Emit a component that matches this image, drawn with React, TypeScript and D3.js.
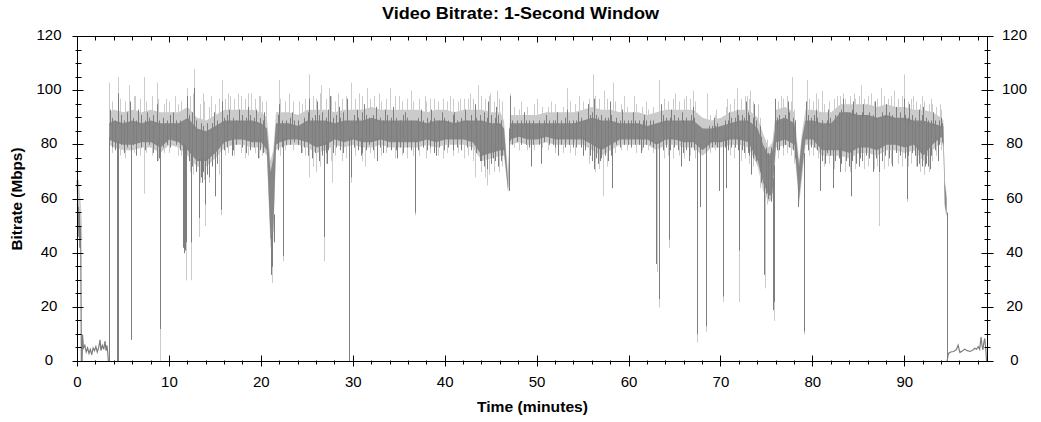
import React from "react";
import * as d3 from "d3";

const TITLE = "Video Bitrate: 1-Second Window";
const X_LABEL = "Time (minutes)";
const Y_LABEL = "Bitrate (Mbps)";
const X_TICKS = [0, 10, 20, 30, 40, 50, 60, 70, 80, 90];
const Y_TICKS = [0, 20, 40, 60, 80, 100, 120];

// main plateau: time (min), dark core low/high, light envelope low/high (Mbps)
const bandTime = [3.45, 4, 5, 6, 7, 8, 9, 10, 11, 12, 13, 14, 15, 16, 17, 18, 19, 20, 20.6, 21.0, 21.3, 21.6, 22, 23, 24, 25, 26, 27, 28, 29, 30, 31, 32, 33, 34, 35, 36, 37, 38, 39, 40, 41, 42, 43, 44, 45, 46, 46.4, 46.85, 47.05, 48, 49, 50, 51, 52, 53, 54, 55, 56, 57, 58, 59, 60, 61, 62, 63, 64, 65, 66, 67, 68, 69, 70, 71, 72, 73, 74, 74.6, 75.2, 75.6, 76, 77, 78, 78.5, 78.8, 79.2, 80, 81, 82, 83, 84, 85, 86, 87, 88, 89, 90, 91, 92, 93, 94, 94.2, 94.35, 94.55];
const darkLow = [82, 81, 80, 80, 81, 81, 79, 82, 81, 78, 74, 74, 77, 81, 82, 82, 81, 81, 78, 45, 48, 80, 81, 82, 82, 81, 79, 80, 82, 81, 82, 81, 81, 82, 81, 81, 81, 81, 82, 81, 82, 82, 82, 81, 76, 77, 78, 78, 63, 82, 83, 82, 82, 83, 82, 82, 82, 82, 80, 78, 80, 82, 82, 82, 82, 80, 82, 82, 81, 81, 78, 81, 81, 82, 82, 81, 74, 66, 61, 62, 81, 82, 80, 60, 70, 82, 82, 78, 78, 78, 77, 79, 79, 78, 80, 80, 79, 80, 76, 80, 83, 80, 58, 54];
const darkHigh = [88, 89, 88, 89, 88, 89, 88, 88, 88, 90, 86, 85, 87, 89, 89, 89, 89, 88, 86, 70, 75, 88, 88, 88, 87, 89, 89, 89, 88, 89, 89, 89, 90, 89, 89, 89, 89, 89, 88, 89, 89, 88, 89, 89, 89, 88, 88, 86, 66, 88, 88, 88, 88, 88, 88, 88, 88, 89, 90, 89, 89, 88, 88, 88, 87, 88, 89, 89, 89, 89, 86, 86, 87, 88, 89, 89, 86, 80, 76, 78, 89, 90, 88, 72, 82, 89, 89, 88, 88, 92, 92, 91, 91, 90, 91, 90, 90, 89, 89, 88, 87, 87, 66, 60];
const lightLow = [80, 79, 78, 78, 79, 79, 77, 80, 79, 76, 72, 72, 75, 79, 80, 80, 79, 79, 76, 42, 45, 78, 79, 80, 80, 79, 77, 78, 80, 79, 80, 79, 79, 80, 79, 79, 79, 79, 80, 79, 80, 80, 80, 79, 74, 75, 76, 76, 62, 80, 81, 80, 80, 81, 80, 80, 80, 80, 78, 76, 78, 80, 80, 80, 80, 78, 80, 80, 79, 79, 76, 79, 79, 80, 80, 79, 72, 63, 59, 60, 79, 80, 78, 58, 67, 80, 80, 76, 76, 76, 75, 77, 77, 76, 78, 78, 77, 78, 74, 78, 81, 79, 57, 53];
const lightHigh = [92, 93, 92, 93, 92, 93, 92, 92, 92, 94, 90, 89, 91, 93, 93, 93, 93, 92, 90, 74, 78, 92, 92, 92, 91, 93, 93, 93, 92, 93, 93, 93, 94, 93, 93, 93, 93, 93, 92, 93, 93, 92, 93, 93, 93, 92, 92, 89, 68, 91, 91, 91, 91, 92, 92, 92, 92, 93, 94, 93, 93, 92, 92, 92, 91, 92, 93, 93, 93, 93, 90, 89, 90, 92, 93, 93, 90, 84, 79, 81, 93, 94, 92, 74, 84, 93, 93, 92, 92, 95, 95, 95, 95, 94, 95, 94, 94, 93, 93, 92, 90, 89, 67, 62];

// hairline texture of the plateau: [minute, low, high]
const darkFuzz = [[3.7, 79, 90], [4.1, 78, 89], [4.7, 80, 91], [5.1, 77, 89], [5.4, 79, 92], [6.0, 80, 90], [6.4, 76, 89], [6.9, 79, 91], [7.3, 78, 89], [7.8, 80, 90], [8.2, 77, 91], [8.9, 75, 89], [9.3, 79, 90], [9.7, 80, 89], [10.1, 79, 91], [10.7, 80, 89], [11.1, 78, 89], [12.1, 74, 91], [12.5, 72, 92], [12.9, 70, 89], [13.4, 68, 88], [13.7, 70, 87], [14.1, 69, 88], [14.6, 72, 88], [15.2, 73, 89], [15.9, 78, 90], [16.3, 79, 91], [16.9, 78, 90], [17.2, 80, 89], [17.9, 79, 91], [18.3, 77, 90], [18.8, 78, 91], [19.2, 79, 90], [19.9, 78, 90], [20.2, 77, 89], [21.8, 78, 91], [22.2, 79, 89], [22.7, 80, 89], [23.1, 80, 90], [23.6, 81, 89], [24.0, 80, 89], [24.6, 79, 90], [25.1, 76, 92], [25.5, 75, 90], [25.8, 77, 91], [26.3, 74, 91], [26.6, 76, 92], [27.0, 77, 90], [27.3, 78, 93], [27.8, 77, 90], [28.1, 79, 91], [28.6, 78, 90], [28.9, 77, 92], [30.1, 79, 91], [30.5, 78, 90], [30.9, 77, 92], [31.4, 78, 91], [31.7, 80, 90], [32.1, 78, 91], [32.9, 79, 90], [33.2, 77, 89], [33.7, 79, 91], [34.1, 78, 90], [34.6, 78, 90], [35.1, 79, 89], [35.4, 77, 91], [35.9, 79, 90], [36.3, 78, 89], [37.0, 78, 90], [37.6, 79, 89], [38.0, 78, 90], [38.3, 79, 89], [38.8, 77, 90], [39.3, 79, 89], [39.9, 78, 90], [40.3, 79, 89], [40.8, 78, 91], [41.3, 79, 89], [41.7, 78, 90], [42.4, 79, 89], [42.8, 78, 91], [43.4, 77, 90], [43.8, 74, 91], [44.2, 72, 92], [44.6, 71, 90], [45.0, 73, 91], [45.4, 74, 90], [45.8, 72, 91], [46.1, 74, 89], [46.9, 63, 86], [47.3, 80, 89], [47.8, 81, 89], [48.2, 80, 89], [48.8, 80, 89], [49.1, 79, 89], [49.6, 80, 89], [50.2, 80, 89], [50.7, 81, 89], [51.3, 80, 89], [51.7, 80, 89], [52.0, 79, 89], [52.6, 80, 89], [53.0, 79, 90], [53.5, 80, 89], [53.9, 79, 89], [54.2, 79, 89], [54.8, 79, 90], [55.2, 78, 89], [55.8, 76, 91], [56.0, 74, 92], [56.4, 75, 91], [56.6, 73, 90], [57.0, 75, 91], [57.4, 76, 90], [57.7, 74, 90], [58.0, 76, 91], [58.6, 80, 90], [59.0, 79, 89], [59.5, 80, 89], [59.9, 80, 89], [60.2, 79, 89], [60.7, 80, 89], [61.1, 80, 89], [61.5, 79, 89], [61.9, 80, 89], [62.3, 80, 89], [62.6, 79, 89], [63.7, 78, 91], [64.0, 79, 90], [64.5, 78, 90], [64.9, 79, 91], [65.3, 78, 90], [65.9, 77, 89], [66.2, 78, 90], [66.7, 79, 91], [67.1, 78, 90], [68.7, 79, 87], [69.0, 79, 87], [69.4, 80, 87], [69.6, 79, 88], [70.4, 79, 89], [70.8, 78, 89], [71.1, 79, 90], [71.5, 79, 90], [71.9, 78, 91], [72.3, 78, 91], [72.5, 77, 90], [72.9, 77, 92], [73.1, 76, 91], [73.5, 75, 90], [73.8, 74, 89], [74.2, 70, 87], [74.4, 66, 83], [74.9, 62, 79], [75.1, 60, 77], [75.4, 59, 79], [76.1, 78, 90], [76.3, 78, 91], [76.7, 79, 90], [77.0, 80, 91], [77.4, 79, 92], [77.8, 78, 90], [78.1, 75, 89], [79.5, 78, 91], [79.8, 79, 90], [80.1, 79, 91], [80.5, 78, 90], [81.0, 74, 89], [81.5, 77, 89], [81.9, 76, 90], [82.4, 74, 91], [82.8, 75, 92], [83.1, 73, 93], [83.6, 74, 92], [83.9, 72, 91], [84.3, 74, 93], [84.7, 73, 92], [85.1, 75, 91], [85.4, 74, 92], [85.8, 76, 91], [86.1, 75, 92], [86.5, 74, 91], [86.9, 75, 90], [87.5, 74, 92], [87.8, 76, 91], [88.3, 75, 92], [88.6, 76, 91], [89.1, 77, 91], [89.5, 76, 92], [90.0, 75, 91], [90.4, 76, 90], [90.8, 77, 91], [91.1, 76, 90], [91.6, 73, 90], [91.9, 72, 91], [92.3, 73, 90], [92.5, 72, 89], [92.9, 76, 89], [93.3, 78, 89], [93.7, 80, 89], [94.0, 81, 88]];
const lightFuzz = [[3.8, 77, 96], [4.6, 76, 97], [5.2, 75, 96], [6.2, 77, 98], [6.8, 76, 97], [7.5, 77, 96], [8.1, 76, 98], [8.8, 74, 97], [9.4, 77, 95], [10.0, 77, 96], [10.9, 76, 95], [11.3, 76, 96], [12.2, 70, 98], [12.6, 69, 99], [13.3, 66, 95], [13.8, 67, 96], [14.3, 66, 94], [15.0, 70, 95], [15.4, 69, 97], [16.0, 76, 97], [16.4, 77, 99], [17.0, 76, 97], [17.8, 77, 98], [18.2, 75, 97], [18.6, 76, 99], [19.3, 77, 97], [19.7, 75, 98], [20.1, 76, 96], [22.0, 76, 97], [22.6, 78, 96], [23.4, 78, 96], [24.4, 77, 95], [24.8, 76, 97], [25.6, 72, 98], [26.0, 70, 97], [26.4, 72, 99], [27.0, 73, 97], [27.6, 74, 98], [28.0, 76, 96], [28.8, 74, 97], [29.2, 75, 98], [30.2, 76, 97], [30.9, 74, 98], [31.8, 77, 97], [32.3, 75, 98], [33.0, 76, 96], [33.6, 77, 97], [34.5, 75, 98], [35.3, 76, 96], [35.8, 75, 97], [36.5, 76, 96], [37.2, 76, 97], [37.9, 75, 96], [38.4, 77, 97], [39.2, 76, 96], [39.8, 75, 97], [40.2, 77, 96], [40.9, 76, 97], [41.4, 77, 96], [42.1, 75, 97], [42.5, 76, 97], [43.0, 74, 97], [43.9, 70, 98], [44.3, 68, 97], [44.8, 69, 98], [45.3, 70, 96], [45.9, 70, 97], [46.2, 72, 96], [47.5, 79, 94], [48.0, 78, 93], [48.9, 78, 94], [49.7, 78, 95], [50.5, 79, 94], [51.2, 78, 94], [52.0, 77, 95], [52.8, 77, 94], [53.6, 77, 96], [54.1, 76, 95], [55.0, 76, 96], [55.6, 73, 97], [56.3, 70, 98], [56.7, 71, 97], [57.6, 72, 97], [58.5, 77, 96], [59.1, 78, 95], [59.8, 78, 94], [60.8, 77, 95], [61.4, 78, 94], [62.1, 78, 93], [62.6, 77, 94], [63.8, 75, 97], [64.2, 76, 96], [64.8, 75, 97], [65.4, 76, 96], [66.0, 75, 97], [66.6, 76, 97], [67.2, 75, 96], [68.8, 77, 91], [69.3, 78, 91], [70.5, 76, 94], [71.0, 76, 95], [71.4, 75, 97], [72.2, 74, 97], [72.6, 75, 98], [73.0, 73, 97], [73.5, 72, 96], [74.3, 64, 90], [75.0, 58, 82], [76.2, 75, 96], [76.8, 76, 97], [77.2, 77, 98], [77.6, 76, 96], [78.0, 73, 93], [79.6, 76, 97], [80.0, 76, 96], [80.6, 75, 97], [81.2, 72, 95], [81.8, 73, 96], [82.3, 71, 97], [82.9, 71, 98], [83.5, 70, 97], [84.0, 70, 98], [84.6, 71, 97], [85.0, 72, 98], [85.6, 71, 97], [86.0, 72, 98], [86.6, 71, 96], [87.0, 72, 97], [87.7, 71, 98], [88.2, 72, 97], [88.5, 73, 98], [89.3, 73, 97], [89.7, 72, 98], [90.3, 72, 96], [90.7, 73, 97], [91.2, 72, 96], [91.7, 70, 95], [92.1, 69, 96], [92.6, 70, 95], [93.0, 74, 95], [93.4, 76, 94], [93.9, 78, 93]];

// opening and closing low-rate sections
const introTime = [0, 0.05, 0.1, 0.15, 0.2, 0.25, 0.3, 0.36, 0.42, 0.5, 0.55, 0.65, 0.8, 0.95, 1.1, 1.25, 1.4, 1.55, 1.7, 1.85, 2.0, 2.15, 2.3, 2.45, 2.55, 2.7, 2.85, 3.0, 3.1, 3.2, 3.3, 3.36];
const introRate = [58, 52, 57, 46, 55, 42, 50, 40, 0, 0, 10, 5, 6, 3.5, 5, 3, 4.5, 2.5, 5, 4, 5.5, 3.5, 5, 8, 4, 6, 4.5, 7.5, 4, 6, 3, 0];
const introLightTime = [0, 0.1, 0.2, 0.3, 0.36];
const introLightRate = [67, 62, 58, 52, 45];
const outroTime = [94.6, 94.75, 95.0, 95.3, 95.6, 95.8, 96.0, 96.3, 96.5, 96.8, 97.1, 97.4, 97.6, 97.8, 98.0, 98.15, 98.3, 98.4, 98.5, 98.6, 98.7, 98.8, 98.9, 99.0];
const outroRate = [0, 3, 3.5, 3.7, 4.3, 6, 3.3, 4, 4.5, 4, 3.7, 4.2, 4.9, 4.5, 5.5, 4.5, 9, 6, 4.3, 7, 8.5, 5, 0, 0];

// individual spikes [minute, Mbps]
const darkDips = [[3.42, 0], [4.25, 0], [4.42, 0], [5.8, 8], [8.6, 74], [9.0, 12], [11.5, 42], [11.6, 40], [11.7, 41], [11.8, 44], [12.3, 44], [13.2, 53], [13.5, 66], [13.9, 58], [14.3, 68], [15.0, 61], [15.6, 56], [16.8, 76], [19.6, 75], [21.1, 32], [21.2, 35], [21.35, 44], [22.4, 39], [24.3, 77], [26.8, 46], [27.1, 73], [29.5, 0], [29.75, 68], [30.8, 76], [32.6, 74], [34.8, 75], [36.7, 55], [39.0, 76], [43.9, 74], [44.5, 73], [45.2, 75], [46.2, 76], [49.3, 72], [50.4, 73], [52.3, 76], [55.0, 76], [56.2, 71], [56.8, 74], [58.1, 64], [61.3, 77], [62.95, 36], [63.3, 23], [64.3, 45], [65.7, 72], [66.5, 74], [67.35, 10], [67.7, 57], [68.4, 13], [69.8, 63], [70.2, 24], [70.6, 64], [72.0, 41], [73.3, 69], [74.7, 32], [75.7, 19], [75.8, 22], [78.4, 57], [79.0, 11], [80.8, 63], [81.3, 73], [82.2, 64], [83.0, 70], [84.1, 61], [85.0, 72], [86.5, 70], [87.2, 70], [88.6, 72], [90.2, 60], [91.3, 72], [92.2, 72], [92.7, 71], [93.6, 74], [94.58, 0]];
const lightDips = [[9.0, 0], [11.8, 30], [12.3, 30], [7.25, 62], [13.2, 46], [13.9, 50], [15.6, 54], [21.15, 29], [22.4, 37], [25.2, 68], [26.8, 37], [27.7, 66], [29.75, 66], [31.3, 72], [36.7, 54], [43.2, 68], [44.5, 65], [57.2, 61], [63.0, 33], [63.3, 20], [64.3, 42], [67.35, 7], [68.4, 11], [70.2, 22], [72.0, 22], [74.8, 27], [75.8, 15], [79.0, 10], [87.2, 50], [90.2, 59]];
const darkPeaks = [[3.5, 93], [4.4, 99], [5.7, 96], [6.6, 93], [7.6, 92], [8.7, 95], [10.4, 92], [11.9, 98], [12.7, 101], [14.8, 92], [15.7, 96], [16.5, 93], [17.6, 93], [18.5, 94], [19.4, 93], [20.3, 92], [21.9, 95], [23.3, 92], [25.2, 97], [26.1, 96], [27.5, 98], [28.4, 94], [29.3, 97], [30.4, 93], [31.2, 95], [32.5, 94], [33.4, 93], [34.3, 94], [35.6, 92], [37.4, 93], [38.5, 93], [39.7, 92], [41.0, 92], [42.2, 93], [43.2, 95], [44.7, 96], [45.5, 94], [47.0, 98], [48.6, 92], [51.0, 91], [52.2, 92], [53.2, 93], [54.4, 92], [55.5, 95], [56.2, 97], [57.9, 96], [59.2, 93], [60.4, 92], [61.6, 91], [63.5, 95], [64.6, 93], [65.8, 92], [67.0, 94], [69.2, 90], [70.9, 92], [71.8, 93], [72.7, 96], [73.6, 95], [75.9, 97], [77.3, 96], [79.3, 96], [80.3, 93], [81.6, 93], [83.3, 97], [84.4, 96], [85.5, 95], [86.8, 96], [88.0, 95], [89.0, 94], [89.9, 97], [90.5, 95], [91.5, 93], [92.0, 94], [93.1, 92], [93.9, 90]];
const lightPeaks = [[3.45, 103], [4.4, 105], [5.6, 102], [6.3, 98], [7.25, 105], [8.6, 103], [9.6, 97], [10.6, 98], [11.9, 101], [12.7, 108], [13.6, 99], [14.5, 98], [15.7, 104], [16.6, 98], [17.5, 99], [18.9, 99], [19.8, 98], [20.5, 96], [21.9, 104], [23.0, 99], [24.1, 96], [25.2, 106], [26.5, 102], [27.4, 101], [28.3, 99], [29.7, 103], [30.6, 99], [31.5, 101], [32.8, 99], [34.0, 101], [35.0, 98], [36.3, 100], [37.8, 98], [38.8, 97], [40.5, 98], [41.6, 97], [42.7, 99], [43.6, 102], [44.9, 99], [45.6, 100], [47.0, 99], [48.3, 96], [50.0, 97], [51.5, 96], [53.2, 101], [54.6, 98], [56.1, 106], [57.3, 100], [58.3, 103], [59.5, 98], [60.5, 98], [61.8, 96], [63.3, 104], [65.0, 99], [66.2, 98], [67.0, 100], [68.5, 99], [69.5, 93], [70.7, 97], [71.7, 101], [72.8, 98], [73.2, 100], [74.0, 95], [76.5, 98], [77.7, 105], [79.4, 104], [80.3, 99], [81.0, 100], [82.6, 98], [83.3, 99], [84.5, 99], [85.2, 102], [86.3, 99], [87.4, 101], [88.8, 100], [89.9, 106], [90.9, 98], [91.9, 98], [92.8, 97], [93.8, 95]];

const W = 1041;
const H = 422;
const FONT = "'Liberation Sans', Arial, Helvetica, sans-serif";
const DARK = "#7e7e7e";
const DARK_FILL = "#878787";
const LIGHT = "#cbcbcb";

export default function App() {
  const x = d3.scaleLinear().domain([0, 99]).range([77.5, 987.5]);
  const y = d3.scaleLinear().domain([0, 120]).range([361.5, 36.5]);
  const [L, R] = x.range();
  const [B, T] = y.range();

  const band = bandTime.map((t, i) => ({ t, dl: darkLow[i], dh: darkHigh[i], ll: lightLow[i], lh: lightHigh[i] }));
  const lightArea = d3.area<any>().x((d) => x(d.t)).y0((d) => y(d.ll)).y1((d) => y(d.lh));
  const darkArea = d3.area<any>().x((d) => x(d.t)).y0((d) => y(d.dl)).y1((d) => y(d.dh));
  const loAt = d3.scaleLinear().domain(bandTime).range(darkLow).clamp(true);
  const hiAt = d3.scaleLinear().domain(bandTime).range(darkHigh).clamp(true);
  const line = d3.line<number[]>().x((d) => x(d[0])).y((d) => y(d[1]));
  const intro = introTime.map((t, i) => [t, introRate[i]]);
  const introLight = introLightTime.map((t, i) => [t, introLightRate[i]]);
  const outro = outroTime.map((t, i) => [t, outroRate[i]]);
  const px = (t: number) => Math.round(x(t)) + 0.5;

  const minorX = d3.range(0, 99, 2).filter((v) => v % 10 !== 0);
  const minorY = d3.range(0, 121, 5).filter((v) => v % 20 !== 0);
  const rnd = (v: number) => Math.round(v - 0.5) + 0.5;

  const vline = (key: string, t: number, a: number, b: number, color: string) => (
    <line key={key} x1={px(t)} x2={px(t)} y1={y(a)} y2={y(b)} stroke={color} strokeWidth={1} />
  );

  return (
    <div style={{ position: "fixed", left: 0, top: 0, width: W, height: H, background: "#fff" }}>
      <svg width={W} height={H} style={{ display: "block" }}>
        <rect x={0} y={0} width={W} height={H} fill="#fff" />
        <text x={520.5} y={18.5} textAnchor="middle" fontFamily={FONT} fontWeight="bold" fontSize={16} textLength={277} lengthAdjust="spacingAndGlyphs" fill="#000">{TITLE}</text>

        {/* light layer */}
        <path d={lightArea(band) || ""} fill={LIGHT} />
        <path d={line(introLight) || ""} fill="none" stroke={LIGHT} strokeWidth={3} />
        {lightFuzz.map(([t, a, b], i) => vline("lf" + i, t, a, b, LIGHT))}
        {lightPeaks.map(([t, v], i) => vline("lp" + i, t, hiAt(t) - 1, v, LIGHT))}
        {lightDips.map(([t, v], i) => vline("ld" + i, t, loAt(t) + 1, v, LIGHT))}

        {/* dark layer */}
        <path d={darkArea(band) || ""} fill={DARK_FILL} />
        {darkFuzz.map(([t, a, b], i) => vline("df" + i, t, a, b, DARK))}
        {darkPeaks.map(([t, v], i) => vline("dp" + i, t, hiAt(t) - 1, v, DARK))}
        {darkDips.map(([t, v], i) => vline("dd" + i, t, loAt(t) + 1, v, DARK))}
        <path d={line(intro) || ""} fill="none" stroke={DARK} strokeWidth={1.2} />
        <path d={line(outro) || ""} fill="none" stroke={DARK} strokeWidth={1.2} />

        {/* frame */}
        <rect x={L} y={T} width={R - L} height={B - T} fill="none" stroke="#000" strokeWidth={1} />

        {/* x ticks */}
        {X_TICKS.map((v) => {
          const xx = rnd(x(v));
          return (
            <g key={"xt" + v}>
              <line x1={xx} x2={xx} y1={B - 6} y2={B + 5} stroke="#000" />
              <line x1={xx} x2={xx} y1={T} y2={T + 6} stroke="#000" />
              <text x={x(v)} y={387} textAnchor="middle" fontFamily={FONT} fontSize={15} fill="#000">{v}</text>
            </g>
          );
        })}
        {minorX.map((v) => {
          const xx = rnd(x(v));
          return (
            <g key={"xm" + v}>
              <line x1={xx} x2={xx} y1={B - 1} y2={B + 3} stroke="#000" />
              <line x1={xx} x2={xx} y1={T} y2={T + 4} stroke="#000" />
            </g>
          );
        })}

        {/* y ticks */}
        {Y_TICKS.map((v) => {
          const yy = rnd(y(v));
          return (
            <g key={"yt" + v}>
              <line x1={L - 5} x2={L + 6} y1={yy} y2={yy} stroke="#000" />
              <line x1={R - 6} x2={R + 6} y1={yy} y2={yy} stroke="#000" />
              <text x={49} y={y(v) + 3.5} textAnchor="middle" fontFamily={FONT} fontSize={15} fill="#000">{v}</text>
              <text x={1014.5} y={y(v) + 3.5} textAnchor="middle" fontFamily={FONT} fontSize={15} fill="#000">{v}</text>
            </g>
          );
        })}
        {minorY.map((v) => {
          const yy = rnd(y(v));
          return (
            <g key={"ym" + v}>
              <line x1={L - 2} x2={L + 4} y1={yy} y2={yy} stroke="#000" />
              <line x1={R - 3} x2={R + 3} y1={yy} y2={yy} stroke="#000" />
            </g>
          );
        })}

        <text x={(L + R) / 2} y={412} textAnchor="middle" fontFamily={FONT} fontWeight="bold" fontSize={15} textLength={111} lengthAdjust="spacingAndGlyphs" fill="#000">{X_LABEL}</text>
        <text transform={`translate(21.5, ${(T + B) / 2}) rotate(-90)`} textAnchor="middle" fontFamily={FONT} fontWeight="bold" fontSize={15} textLength={103} lengthAdjust="spacingAndGlyphs" fill="#000">{Y_LABEL}</text>
      </svg>
    </div>
  );
}
